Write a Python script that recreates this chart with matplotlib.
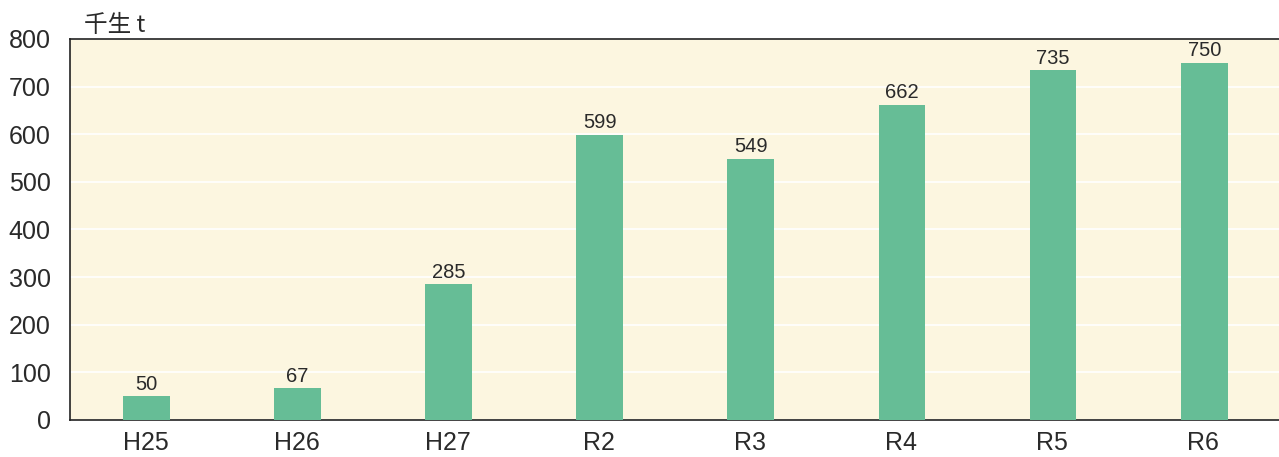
import matplotlib
matplotlib.use('Agg')
import matplotlib.pyplot as plt

plt.rcParams['font.family'] = ['Liberation Sans', 'Noto Sans CJK JP', 'DejaVu Sans']

years = ['H25', 'H26', 'H27', 'R2', 'R3', 'R4', 'R5', 'R6']
values = [50, 67, 285, 599, 549, 662, 735, 750]
unit = '千生 t'

fig = plt.figure(figsize=(12.79, 4.57), dpi=100)
ax = fig.add_axes([0.0547, 0.081, 0.9453, 0.8337])
ax.set_facecolor('#fcf6e0')

x = range(len(years))
bars = ax.bar([i + 0.005 for i in x], values, width=0.31, color='#66bd96', zorder=3)
for b, v in zip(bars, values):
    ax.text(b.get_x() + b.get_width() / 2, v + 5, str(v), ha='center', va='bottom',
            fontsize=14.5, color='#2a2a2a', zorder=4)

ax.set_xlim(-0.5, len(years) - 0.5)
ax.set_ylim(0, 800)
ax.set_yticks(range(0, 801, 100))
ax.set_xticks(list(x))
ax.set_xticklabels(years)
ax.yaxis.grid(True, color='white', linewidth=1.2, zorder=1)
ax.tick_params(length=0, labelsize=18, labelcolor='#2a2a2a')
ax.tick_params(axis='y', pad=14)
ax.tick_params(axis='x', pad=8)

ax.spines['right'].set_visible(False)
for s in ['left', 'top', 'bottom']:
    ax.spines[s].set_color('#222222')
    ax.spines[s].set_linewidth(1.2)

fig.text(0.066, 0.93, unit, fontsize=17, color='#2a2a2a',
         family=['Noto Sans CJK JP', 'DejaVu Sans'])

fig.savefig('out.png', dpi=100)
